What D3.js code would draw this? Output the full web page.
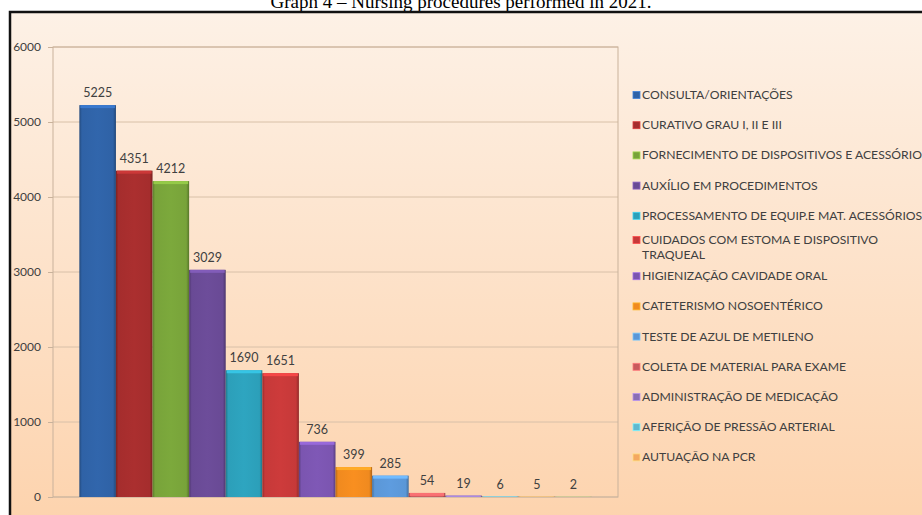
<!DOCTYPE html>
<meta charset="utf-8">
<style>
body { margin: 0; background: white; }
.grid line { stroke: #d8c0a8; }
.axisY path { display: none; }
.axisY line { stroke: #c9b29b; }
.axisY text { fill: #404040; font-family: Lato, sans-serif; font-size: 12px; }
</style>
<script src="https://cdn.jsdelivr.net/npm/d3@7"></script>
<body>
<script>
const values = [5225, 4351, 4212, 3029, 1690, 1651, 736, 399, 285, 54, 19, 6, 5, 2];
const barColors = ['#2f62a6', '#a52d2d', '#78a33a', '#694a95', '#2c9fb9', '#c63939', '#7b55b0',
  '#f08a1f', '#5b97d7', '#c95b5d', '#8a6fb5', '#5fb8cf', '#f4a860', '#9fc46c'];
// the legend of the original lists 13 names for the 14 bars
const legendNames = [
  'CONSULTA/ORIENTAÇÕES',
  'CURATIVO GRAU I, II E III',
  'FORNECIMENTO DE DISPOSITIVOS E ACESSÓRIOS',
  'AUXÍLIO EM PROCEDIMENTOS',
  'PROCESSAMENTO DE EQUIP.E MAT. ACESSÓRIOS',
  'CUIDADOS COM ESTOMA E DISPOSITIVO|TRAQUEAL',
  'HIGIENIZAÇÃO CAVIDADE ORAL',
  'CATETERISMO NOSOENTÉRICO',
  'TESTE DE AZUL DE METILENO',
  'COLETA DE MATERIAL PARA EXAME',
  'ADMINISTRAÇÃO DE MEDICAÇÃO',
  'AFERIÇÃO DE PRESSÃO ARTERIAL',
  'AUTUAÇÃO NA PCR'
];
const yTicks = [0, 1000, 2000, 3000, 4000, 5000, 6000];

const W = 922, H = 515;
const plot = { left: 53, right: 618, top: 47, bottom: 497 };

const svg = d3.select('body').append('svg')
  .attr('width', W)
  .attr('height', H);

const defs = svg.append('defs');

const bg = defs.append('linearGradient').attr('id', 'bg')
  .attr('x1', 0).attr('y1', 0).attr('x2', 0).attr('y2', 1);
bg.append('stop').attr('offset', 0).attr('stop-color', '#fdf1e6');
bg.append('stop').attr('offset', 1).attr('stop-color', '#fdd3ad');

barColors.forEach((c, i) => {
  const g = defs.append('linearGradient').attr('id', 'bar' + i)
    .attr('x1', 0).attr('y1', 0).attr('x2', 1).attr('y2', 0);
  g.append('stop').attr('offset', 0).attr('stop-color', d3.color(c).darker(0.8));
  g.append('stop').attr('offset', 0.07).attr('stop-color', c);
  g.append('stop').attr('offset', 0.5).attr('stop-color', d3.color(c).brighter(0.1));
  g.append('stop').attr('offset', 0.92).attr('stop-color', c);
  g.append('stop').attr('offset', 1).attr('stop-color', d3.color(c).darker(0.9));
});

// title, cut by the top of the picture
svg.append('text')
  .attr('x', W / 2)
  .attr('y', 8)
  .attr('text-anchor', 'middle')
  .style('font-family', '"Liberation Serif", serif')
  .style('font-size', '19px')
  .text('Graph 4 – Nursing procedures performed in 2021.');

// chart box
svg.append('rect')
  .attr('x', 10).attr('y', 12)
  .attr('width', W).attr('height', H)
  .attr('fill', 'url(#bg)')
  .attr('stroke', '#111')
  .attr('stroke-width', 2.5);

const x = d3.scaleBand()
  .domain(d3.range(values.length))
  .range([plot.left, plot.right])
  .paddingInner(0)
  .paddingOuter(0.72);

const y = d3.scaleLinear()
  .domain([0, 6000])
  .range([plot.bottom, plot.top]);

// gridlines
svg.append('g')
  .attr('class', 'grid')
  .selectAll('line')
  .data(yTicks)
  .join('line')
    .attr('x1', plot.left)
    .attr('x2', plot.right)
    .attr('y1', d => y(d))
    .attr('y2', d => y(d));

// plot frame
svg.append('rect')
  .attr('x', plot.left).attr('y', plot.top)
  .attr('width', plot.right - plot.left)
  .attr('height', plot.bottom - plot.top)
  .attr('fill', 'none')
  .attr('stroke', '#c9b29b');

svg.append('g')
  .attr('class', 'axisY')
  .attr('transform', `translate(${plot.left}, 0)`)
  .call(d3.axisLeft(y).tickValues(yTicks).tickSize(5).tickPadding(7).tickFormat(d3.format('d')));

// bars
const bars = svg.append('g').selectAll('g')
  .data(values)
  .join('g');

bars.append('rect')
  .attr('x', (d, i) => x(i))
  .attr('width', x.bandwidth())
  .attr('y', d => y(d))
  .attr('height', d => y(0) - y(d))
  .attr('fill', (d, i) => `url(#bar${i})`);

bars.append('rect')
  .attr('x', (d, i) => x(i) + 1)
  .attr('width', x.bandwidth() - 2)
  .attr('y', d => y(d))
  .attr('height', d => Math.min(3, y(0) - y(d)))
  .attr('fill', (d, i) => d3.color(barColors[i]).brighter(0.6));

bars.append('text')
  .attr('x', (d, i) => x(i) + x.bandwidth() / 2)
  .attr('y', d => y(d) - 8)
  .attr('text-anchor', 'middle')
  .style('font-family', 'Lato, sans-serif')
  .style('font-size', '12.5px')
  .style('fill', '#404040')
  .text(d => d);

// legend
const legendTop = 99, legendStep = 30.2;
const legend = svg.append('g').selectAll('g')
  .data(legendNames)
  .join('g')
    .attr('transform', (d, i) => `translate(633, ${legendTop + i * legendStep + (i === 5 ? -6 : 0)})`);

legend.append('rect')
  .attr('x', 0).attr('y', -7.5)
  .attr('width', 7).attr('height', 7)
  .attr('fill', (d, i) => barColors[i])
  .attr('stroke', (d, i) => d3.color(barColors[i]).brighter(0.8))
  .attr('stroke-width', 0.8);

legend.append('text')
  .attr('x', 9)
  .attr('y', 0)
  .style('font-family', 'Lato, sans-serif')
  .style('font-size', '12.2px')
  .style('fill', '#404040')
  .selectAll('tspan')
  .data(d => d.split('|'))
  .join('tspan')
    .attr('x', 9)
    .attr('dy', (d, i) => i === 0 ? 0 : 14.5)
    .text(d => d);
</script>
</body>
